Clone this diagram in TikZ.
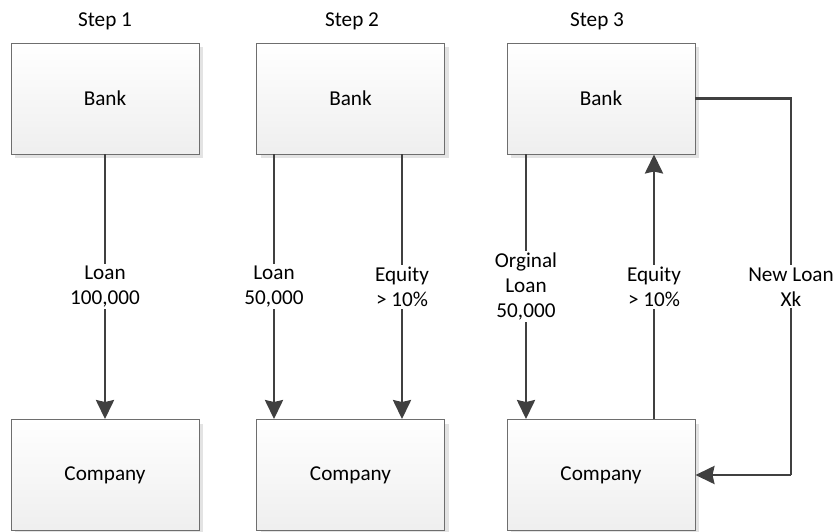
\documentclass[tikz,border=0pt]{standalone}
\usepackage{fontspec}
\setmainfont{Carlito}
\usetikzlibrary{arrows.meta,shadows,calc}
\definecolor{linec}{HTML}{404040}
\definecolor{boxline}{HTML}{6E6E6E}
\tikzset{
  entity/.style={draw=boxline, line width=0.9pt, minimum width=188pt, minimum height=111pt,
    top color=white, bottom color=gray!13, inner sep=0pt,
    font=\fontsize{21.2}{25}\selectfont,
    drop shadow={shadow xshift=4pt, shadow yshift=-4pt, fill=gray!22, opacity=1}},
  flow/.style={draw=linec, line width=2.9pt, -{Stealth[length=19pt,width=18pt,inset=2pt]}},
  plain/.style={draw=linec, line width=2.9pt},
  lbl/.style={fill=white, align=center, inner sep=2pt, font=\fontsize{21.2}{25}\selectfont},
  steplbl/.style={font=\fontsize{21.2}{25}\selectfont}
}
\begin{document}
\begin{tikzpicture}[x=1pt,y=-1pt]
\useasboundingbox (0,0) rectangle (833,532);
% boxes
\node[entity] (b1) at (105,98.5) {Bank};
\node[entity] (b2) at (350.5,98.5) {Bank};
\node[entity] (b3) at (601,98.5) {Bank};
\node[entity] (c1) at (105,475) {Company};
\node[entity] (c2) at (350.5,475) {Company};
\node[entity] (c3) at (601,475) {Company};
% step titles
\node[steplbl] (s1) at (105,21) {Step 1};
\node[steplbl] (s2) at (352,21) {Step 2};
\node[steplbl] (s3) at (597,21) {Step 3};
% step 1
\draw[flow] (b1.south) -- node[lbl] {Loan\\100,000} (c1.north);
% step 2
\draw[flow] ([xshift=-76.5pt]b2.south) -- node[lbl] {Loan\\50,000} ([xshift=-76.5pt]c2.north);
\draw[flow] ([xshift=51.5pt]b2.south) -- node[lbl] {Equity\\> 10\%} ([xshift=51.5pt]c2.north);
% step 3
\draw[flow] ([xshift=-75pt]b3.south) -- node[lbl] {Orginal\\Loan\\50,000} ([xshift=-75pt]c3.north);
\draw[flow] ([xshift=53pt]c3.north) -- node[lbl] {Equity\\> 10\%} ([xshift=53pt]b3.south);
\coordinate (r1) at (791,98.5);
\coordinate (r2) at (791,475);
\draw[plain] (b3.east) -- (r1) -- node[lbl] {New Loan\\Xk} (r2);
\draw[flow] (r2) -- (c3.east);
\end{tikzpicture}
\end{document}
